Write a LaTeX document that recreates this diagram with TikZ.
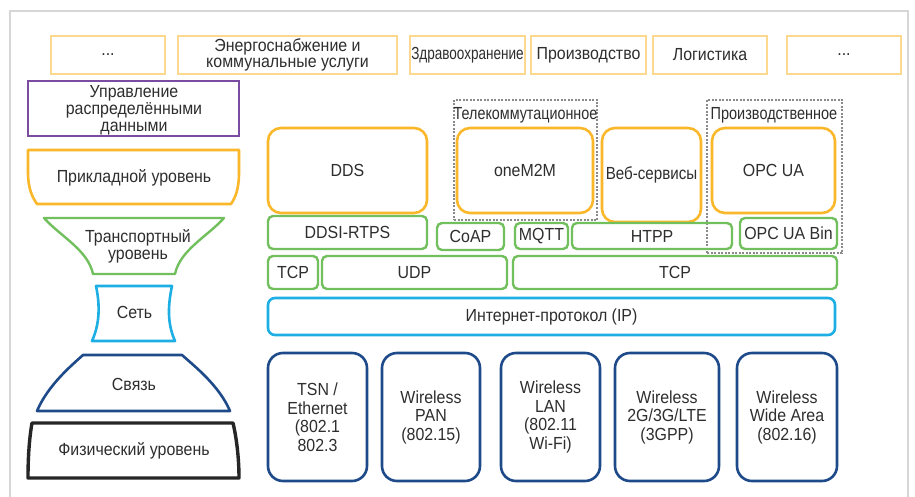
\documentclass[tikz,border=0pt]{standalone}
\usepackage{fontspec}
\usepackage{graphicx}
\setmainfont{Liberation Sans}[FakeStretch=0.91]
\definecolor{peach}{HTML}{FCD98E}
\definecolor{gold}{HTML}{FBB72A}
\definecolor{purp}{HTML}{7B4CA0}
\definecolor{grn}{HTML}{72BF5E}
\definecolor{cyn}{HTML}{1DAEE3}
\definecolor{navy}{HTML}{1E4A8A}
\definecolor{txt}{HTML}{2E2E2E}
\definecolor{frame}{HTML}{D6D6D6}
\definecolor{dashg}{HTML}{8A8A8A}
\newcommand{\squeeze}[2]{\scalebox{#1}[1]{#2}}
\tikzset{
  base/.style={inner sep=0pt, align=center, text=txt, font=\fontsize{17.5}{16.8}\selectfont},
  basewide/.style={inner sep=0pt, align=center, text=txt, font=\fontsize{17.5}{18.5}\selectfont},
  topbox/.style={base, draw=peach, line width=1.6pt, minimum height=38pt},
  obox/.style={base, draw=gold, line width=2.6pt, rounded corners=13pt},
  gbox/.style={base, draw=grn, line width=2.4pt, rounded corners=5pt},
  cbox/.style={base, draw=cyn, line width=2.6pt, rounded corners=7pt},
  nbox/.style={basewide, draw=navy, line width=2.6pt, rounded corners=15pt, minimum height=128pt},
  dashbox/.style={draw=dashg, line width=1.1pt, dash pattern=on 2pt off 1.5pt},
}
\begin{document}
\begin{tikzpicture}[x=1pt,y=-1pt]
\useasboundingbox (0,0) rectangle (915,497);
\fill[white] (0,0) rectangle (915,497);
% frame
\draw[frame, line width=1.8pt] (10,497) -- (10,11) -- (908,11) -- (908,497);

% top row
\node[topbox, minimum width=114pt] (dotsA) at (108,55) {...};
\node[topbox, minimum width=219pt] (energy) at (287.5,55) {Энергоснабжение и\\коммунальные услуги};
\node[topbox, minimum width=115pt] (health) at (467.5,55) {\squeeze{0.85}{Здравоохранение}};
\node[topbox, minimum width=115pt] (manuf) at (588.5,55) {Производство};
\node[topbox, minimum width=114pt] (logist) at (710,55) {Логистика};
\node[topbox, minimum width=114pt] (dotsB) at (844,55) {...};

% left stack
\node[base, draw=purp, line width=2.8pt, minimum width=211pt, minimum height=55pt] (ddm) at (133.5,108.5) {};
\node[base] (ddmt) at (134,110.5) {Управление\\распределёнными\\данными};

\draw[gold, line width=2.6pt, line join=round] (28,150) -- (28,172) .. controls (28,190) and (33,198) .. (37,204) -- (231,204) .. controls (235,198) and (239,190) .. (239,172) -- (239,150) -- cycle;
\node[base] (appl) at (134,178) {Прикладной уровень};

\draw[grn, line width=2.4pt, line join=round] (44,218) .. controls (60,236) and (88,250) .. (93,274) -- (175,274) .. controls (180,250) and (208,236) .. (224,218) -- cycle;
\node[base] (transp) at (138,246) {Транспортный\\уровень};

\draw[cyn, line width=2.6pt, line join=round] (96,286) .. controls (100,305) and (100,323) .. (92,341) -- (175,341) .. controls (167,323) and (168,305) .. (172,286) -- cycle;
\node[base] (net) at (134.5,312) {Сеть};

\draw[navy, line width=2.6pt, line join=round] (83,355) .. controls (72,365) and (48,385) .. (37,411) -- (230,411) .. controls (219,385) and (193,365) .. (182,355) -- cycle;
\node[base] (link) at (134,384) {Связь};

\draw[black!85, line width=3.4pt, line join=round] (32,423) .. controls (29,440) and (28,460) .. (28,478) -- (239,478) .. controls (239,460) and (237,440) .. (233,423) -- cycle;
\node[base] (phys) at (134,451) {Физический уровень};

% dashed groups
\node[dashbox, minimum width=143pt, minimum height=120pt] (tele) at (525.5,160) {};
\node[base] (telel) at (525.5,115) {\squeeze{0.9}{Телекоммутационное}};
\node[dashbox, minimum width=135pt, minimum height=153pt] (indus) at (774.5,176.5) {};
\node[base] (indusl) at (774,115) {\squeeze{0.91}{Производственное}};

% application protocols
\node[obox, minimum width=159pt, minimum height=85pt] (dds) at (347.5,170.5) {DDS};
\node[obox, minimum width=136pt, minimum height=85pt] (onem2m) at (525,170.5) {oneM2M};
\node[obox, minimum width=99pt, minimum height=94pt] (web) at (651.5,175) {\squeeze{0.95}{Веб-сервисы}};
\node[obox, minimum width=123pt, minimum height=85pt] (opcua) at (773.5,170.5) {OPC UA};

% green row 1
\node[gbox, minimum width=159pt, minimum height=33pt] (ddsi) at (347.5,232.5) {DDSI-RTPS};
\node[gbox, minimum width=67pt, minimum height=27pt] (coap) at (470.5,236.5) {CoAP};
\node[gbox, minimum width=53pt, minimum height=26pt] (mqtt) at (541.5,236) {MQTT};
\node[gbox, minimum width=160pt, minimum height=26pt] (htpp) at (652,236) {HTPP};
\node[gbox, minimum width=97pt, minimum height=31pt] (opcbin) at (788.5,233.5) {OPC UA Bin};

% green row 2
\node[gbox, minimum width=50pt, minimum height=33pt] (tcpA) at (293,272.5) {TCP};
\node[gbox, minimum width=185pt, minimum height=33pt] (udp) at (414.5,272.5) {UDP};
\node[gbox, minimum width=324pt, minimum height=33pt] (tcpB) at (675,272.5) {TCP};

% IP
\node[cbox, minimum width=567pt, minimum height=37pt] (ip) at (551.5,316.5) {Интернет-протокол (IP)};

% link technologies
\node[nbox, minimum width=99pt] (tsn) at (317.5,417) {TSN /\\Ethernet\\(802.1\\802.3};
\node[nbox, minimum width=98pt] (pan) at (431,417) {Wireless\\PAN\\(802.15)};
\node[nbox, minimum width=99pt] (lan) at (550.5,417) {Wireless\\LAN\\(802.11\\Wi-Fi)};
\node[nbox, minimum width=104pt] (lte) at (667,417) {Wireless\\2G/3G/LTE\\(3GPP)};
\node[nbox, minimum width=100pt] (wan) at (787,417) {Wireless\\Wide Area\\(802.16)};
\end{tikzpicture}
\end{document}
